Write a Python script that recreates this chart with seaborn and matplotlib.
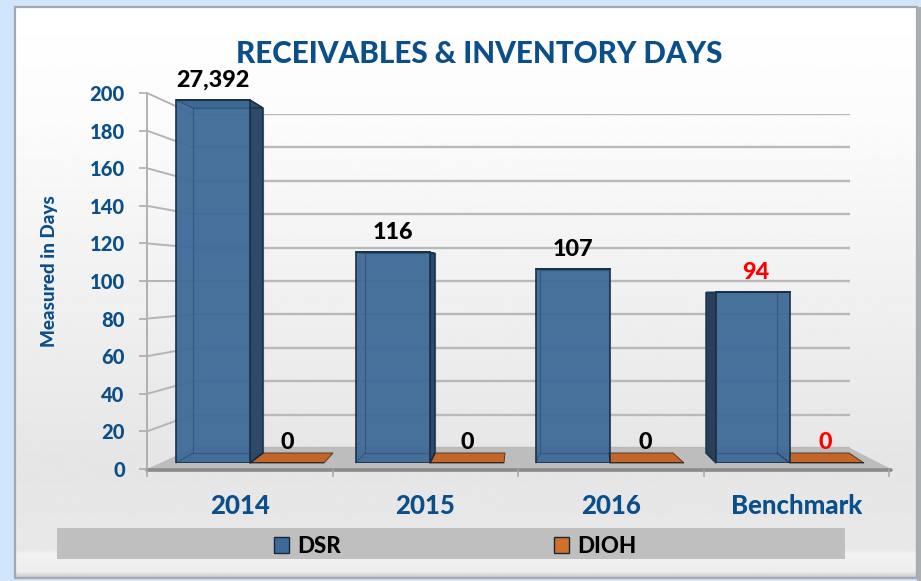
import numpy as np
import pandas as pd
import matplotlib
matplotlib.use("Agg")
import matplotlib.pyplot as plt
from matplotlib.patches import Polygon, Rectangle
import seaborn as sns

categories = ["2014", "2015", "2016", "Benchmark"]
dsr_values = [27392, 116, 107, 94]
dioh_values = [0, 0, 0, 0]
series_names = ["DSR", "DIOH"]
y_ticks = list(range(0, 201, 20))
title_text = "RECEIVABLES & INVENTORY DAYS"
y_label = "Measured in Days"

W, H = 921, 581
BLUE = "#0B4F8A"
FRONT = "#3E6A97"
ORANGE = "#C4662A"
sns.set_theme(style="white")
plt.rcParams["font.family"] = ["Lato", "DejaVu Sans"]
plt.rcParams["font.weight"] = 900
plt.rcParams["axes.labelweight"] = 900
plt.rcParams["axes.titleweight"] = 900

fig = plt.figure(figsize=(W / 100, H / 100), dpi=100, facecolor="#D2E6FB")

def box(l, t, r, b, z):
    a = fig.add_axes([l / W, 1 - b / H, (r - l) / W, (b - t) / H], zorder=z)
    a.patch.set_alpha(0)
    return a

def pixel_layer(z):
    a = box(0, 0, W, H, z)
    a.set_xlim(0, W)
    a.set_ylim(H, 0)
    a.axis("off")
    return a

# panel and floor
bg = pixel_layer(0)
shade = np.interp(np.linspace(0, 1, 300), [0, .2, .8, .95, .96, .99, 1],
                  [1, .985, .9, .91, .945, .93, .8])[:, None]
bg.imshow(shade, cmap="gray", vmin=0, vmax=1, extent=(15, 917, 578, 7), aspect="auto")
bg.set_xlim(0, W)
bg.set_ylim(H, 0)
bg.add_patch(Rectangle((15, 7), 902, 571, fc="none", ec="#A3A9AE", lw=1.6))
bg.add_patch(Rectangle((917, 7), 4, 574, fc="#A9AEB3", ec="none"))
bg.add_patch(Polygon([(147, 469), (193, 448), (850, 448), (891, 469)], fc="#BDBDBD", ec="none"))
bg.plot([147, 891], [469.5, 469.5], color="#8A8A8A", lw=2.6, solid_capstyle="round")
bg.add_patch(Rectangle((57, 528), 788, 31, fc="#BFBFBF", ec="none"))

# back wall gridlines
wall = box(193, 114, 850, 448, 1)
wall.set_ylim(0, 200)
wall.set_yticks(y_ticks)
wall.set_xticks([])
wall.tick_params(left=False, labelleft=False)
wall.grid(axis="y", color="#B9B9B9", lw=1.7)
sns.despine(ax=wall, left=True, bottom=True)

# main numeric axis
axis = box(147, 93, 889, 469, 2)
axis.set_xlim(-.5, 3.5)
axis.set_ylim(0, 200)
axis.set_yticks(y_ticks)
axis.set_xticks(range(4), categories)
axis.set_xticks(np.arange(-.5, 4), minor=True)
axis.tick_params(axis="y", which="major", left=True, length=6, width=1.1, color="#A6A6A6",
                 labelcolor=BLUE, labelsize=14.5, pad=10)
axis.tick_params(axis="x", which="major", bottom=False, labelcolor=BLUE, labelsize=18.5, pad=12)
axis.tick_params(axis="x", which="minor", bottom=True, length=6, width=1.1, color="#A6A6A6")
axis.set_ylabel(y_label, color=BLUE, fontsize=13.6, labelpad=0)
axis.yaxis.set_label_coords((58 - 147) / 742, (469 - 271) / 376)
sns.despine(ax=axis, bottom=True)
axis.spines["left"].set_color("#A6A6A6")
axis.spines["left"].set_linewidth(1.2)

# bars
ax = box(147, 100, 889, 463, 4)
df = pd.DataFrame({
    "category": categories * 2,
    "series": [series_names[0]] * 4 + [series_names[1]] * 4,
    "days": dsr_values + dioh_values,
})
sns.barplot(data=df, x="category", y="days", hue="series", order=categories,
            hue_order=series_names, palette=[FRONT, ORANGE], saturation=1,
            width=.822, gap=0, linewidth=1.2, edgecolor="#14283E", ax=ax)
ax.set_xlim((147 - 250) / 180, (889 - 250) / 180)
ax.set_ylim(0, 200)
ax.set_xlabel("")
ax.set_ylabel("")
ax.set_xticks([])
ax.set_yticks([])
sns.despine(ax=ax, left=True, bottom=True)

dsr_bars = ax.containers[0]
dioh_bars = ax.containers[1]
for b in dsr_bars:
    b.set_facecolor((*matplotlib.colors.to_rgb(FRONT), .95))
    b.set_edgecolor("#1A3047")

under = pixel_layer(3)
over = pixel_layer(5)

def to_px(a, x, y):
    return under.transData.inverted().transform(a.transData.transform((x, y)))

# connection of left axis ticks to the wall
for v in y_ticks[1:]:
    p = to_px(axis, -.5, v)
    q = to_px(wall, 0, v)
    under.plot([p[0], q[0]], [p[1], q[1]], color="#B4B4B4", lw=1.4, zorder=1)

# 3D depth of the bars, derived from the bars themselves
back_left = [17, 9, 4, -10]
back_right = [13, 5, -1, -13]
top_drop = [8, 1, 1, 0]
floor_drop = 10
floor_back = [9, 1, -11, -15]
for i, (b, o) in enumerate(zip(dsr_bars, dioh_bars)):
    x0, x1 = b.get_x(), b.get_x() + b.get_width()
    top = min(b.get_height(), ax.get_ylim()[1])
    lt = to_px(ax, x0, top)
    rt = to_px(ax, x1, top)
    lb = to_px(ax, x0, 0)
    rb = to_px(ax, x1, 0)
    tl = (lt[0] + back_left[i], lt[1] + top_drop[i])
    tr = (rt[0] + back_right[i], rt[1] + top_drop[i])
    bl = (lb[0] + back_left[i], lb[1] - floor_drop)
    br = (rb[0] + back_right[i], rb[1] - floor_drop)
    # orange zero bar lying on the floor
    ox0 = to_px(ax, o.get_x(), 0)
    ox1 = to_px(ax, o.get_x() + o.get_width(), 0)
    under.add_patch(Polygon([ox0, ox1, (ox1[0] + floor_back[i], ox1[1] - floor_drop), br],
                            fc=ORANGE, ec="#5B3A1E", lw=.7, zorder=2))
    # visible side
    if back_right[i] > 0:
        under.add_patch(Polygon([rt, tr, br, rb], fc="#2E4A69", ec="#16283B", lw=1, zorder=3))
    if back_left[i] < 0:
        under.add_patch(Polygon([lt, tl, bl, lb], fc="#2A3F58", ec="#16283B", lw=1, zorder=3))
    under.add_patch(Polygon([lt, rt, tr, tl], fc="#2F4F72", ec="#16283B", lw=.8, zorder=3))
    # rear edges seen through the bar
    over.plot([tl[0], tl[0], br[0], br[0], tl[0]], [tl[1], bl[1], br[1], tr[1], tr[1]],
              color="#20405F", lw=.9, alpha=.45)
    over.plot([lt[0], tl[0]], [lt[1], tl[1]], color="#20405F", lw=.9, alpha=.45)
    over.plot([lb[0], bl[0]], [lb[1], bl[1]], color="#20405F", lw=.9, alpha=.45)
    over.plot([rb[0], br[0]], [rb[1], br[1]], color="#16283B", lw=.9, alpha=.6)
    over.plot([lt[0], rt[0]], [lt[1], rt[1]], color="#1A3047", lw=1.4)

# value labels
for i, (b, v) in enumerate(zip(dsr_bars, dsr_values)):
    h = min(v, ax.get_ylim()[1])
    ax.annotate(f"{v:,}", (b.get_x() + b.get_width() / 2, h), xytext=(2 if i == 3 else 0, 6.5),
                textcoords="offset points", ha="center", va="bottom", fontsize=16.8,
                color="#FF0000" if i == 3 else "black", annotation_clip=False)
for i, (b, v) in enumerate(zip(dioh_bars, dioh_values)):
    ax.annotate(f"{v:,}", (b.get_x() + b.get_width() / 2, v), xytext=(-1.5 if i > 1 else 0, 7),
                textcoords="offset points", ha="center", va="bottom", fontsize=16.8,
                color="#FF0000" if i == 3 else "black", annotation_clip=False)

fig.text(479 / W, 1 - 54 / H, title_text, ha="center", va="center", color=BLUE, fontsize=21.3,
         zorder=10)

# legend
handles = [Rectangle((0, 0), 1, 1, fc=FRONT, ec="#14283E", lw=1),
           Rectangle((0, 0), 1, 1, fc="#D2702B", ec="#14283E", lw=1)]
ax.legend(handles, series_names, ncols=2, loc="center", frameon=False,
          bbox_to_anchor=(455 / W, 1 - 546.5 / H), bbox_transform=fig.transFigure,
          fontsize=16, handlelength=.7, handleheight=.7, handletextpad=.35,
          columnspacing=9.6, labelcolor="black", borderpad=0)

fig.savefig("out.png", dpi=100, facecolor=fig.get_facecolor())
